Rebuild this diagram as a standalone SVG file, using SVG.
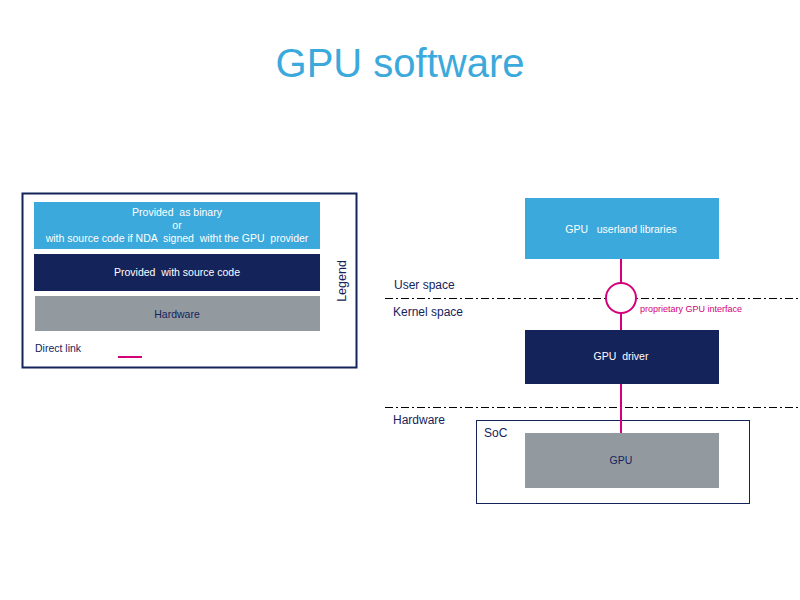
<svg xmlns="http://www.w3.org/2000/svg" width="800" height="600" viewBox="0 0 800 600">
<style>
text{font-family:"Liberation Sans",Arial,sans-serif;white-space:pre}
.w{fill:#fff;font-size:10.5px;text-anchor:middle}
.lbl{fill:#15235b;font-size:12px}
.sep{stroke:#000;stroke-width:1;stroke-dasharray:8,3,2,3;fill:none}
.link{stroke:#d4007a;stroke-width:2;fill:none}
</style>
<rect width="800" height="600" fill="#fff"/>
<text x="400" y="77" font-size="40" fill="#3ba9dc" text-anchor="middle">GPU software</text>

<g id="legend">
<rect x="22.5" y="193.5" width="334" height="174" fill="#fff" stroke="#15235b" stroke-width="2"/>
<rect x="34" y="202" width="286" height="47" fill="#3ba9dc"/>
<text class="w" x="177" y="216" xml:space="preserve">Provided  as binary</text>
<text class="w" x="177" y="229">or</text>
<text class="w" x="177" y="242" xml:space="preserve">with source code if NDA  signed  witht the GPU  provider</text>
<rect x="34" y="254" width="286" height="37" fill="#15235b"/>
<text class="w" x="177" y="276" xml:space="preserve">Provided  with source code</text>
<rect x="35" y="296" width="285" height="35" fill="#929aa0"/>
<text class="w" x="177" y="318" style="fill:#15235b">Hardware</text>
<text x="346" y="281" font-size="12.5" fill="#15235b" text-anchor="middle" transform="rotate(-90 346 281)">Legend</text>
<text x="35" y="352" font-size="10.5" fill="#15235b">Direct link</text>
<line class="link" x1="118" y1="357" x2="142" y2="357"/>
</g>

<g id="separators">
<line class="sep" x1="385" y1="298.5" x2="800" y2="298.5"/>
<line class="sep" x1="385" y1="407.5" x2="800" y2="407.5"/>
<text class="lbl" x="394" y="289">User space</text>
<text class="lbl" x="393" y="316">Kernel space</text>
<text class="lbl" x="393" y="424">Hardware</text>
</g>

<g id="soc">
<rect x="476.5" y="420.5" width="273" height="83" fill="#fff" stroke="#15235b" stroke-width="1"/>
<text class="lbl" x="484" y="437">SoC</text>
</g>

<g id="connectors">
<line class="link" x1="621" y1="259" x2="621" y2="283"/>
<circle class="link" cx="621" cy="298" r="15" style="fill:#fff"/>
<line class="link" x1="621" y1="313" x2="621" y2="330"/>
<line class="link" x1="621" y1="384" x2="621" y2="434"/>
<text x="640" y="312" font-size="9" fill="#d4007a">proprietary GPU interface</text>
</g>

<g id="userland">
<rect x="525" y="198" width="194" height="61" fill="#3ba9dc"/>
<text class="w" x="621" y="233" xml:space="preserve">GPU   userland libraries</text>
</g>
<g id="driver">
<rect x="525" y="330" width="194" height="54" fill="#15235b"/>
<text class="w" x="621" y="360" xml:space="preserve">GPU  driver</text>
</g>
<g id="gpu">
<rect x="525" y="433" width="194" height="55" fill="#929aa0"/>
<text class="w" x="621" y="464" style="fill:#15235b">GPU</text>
</g>
</svg>
